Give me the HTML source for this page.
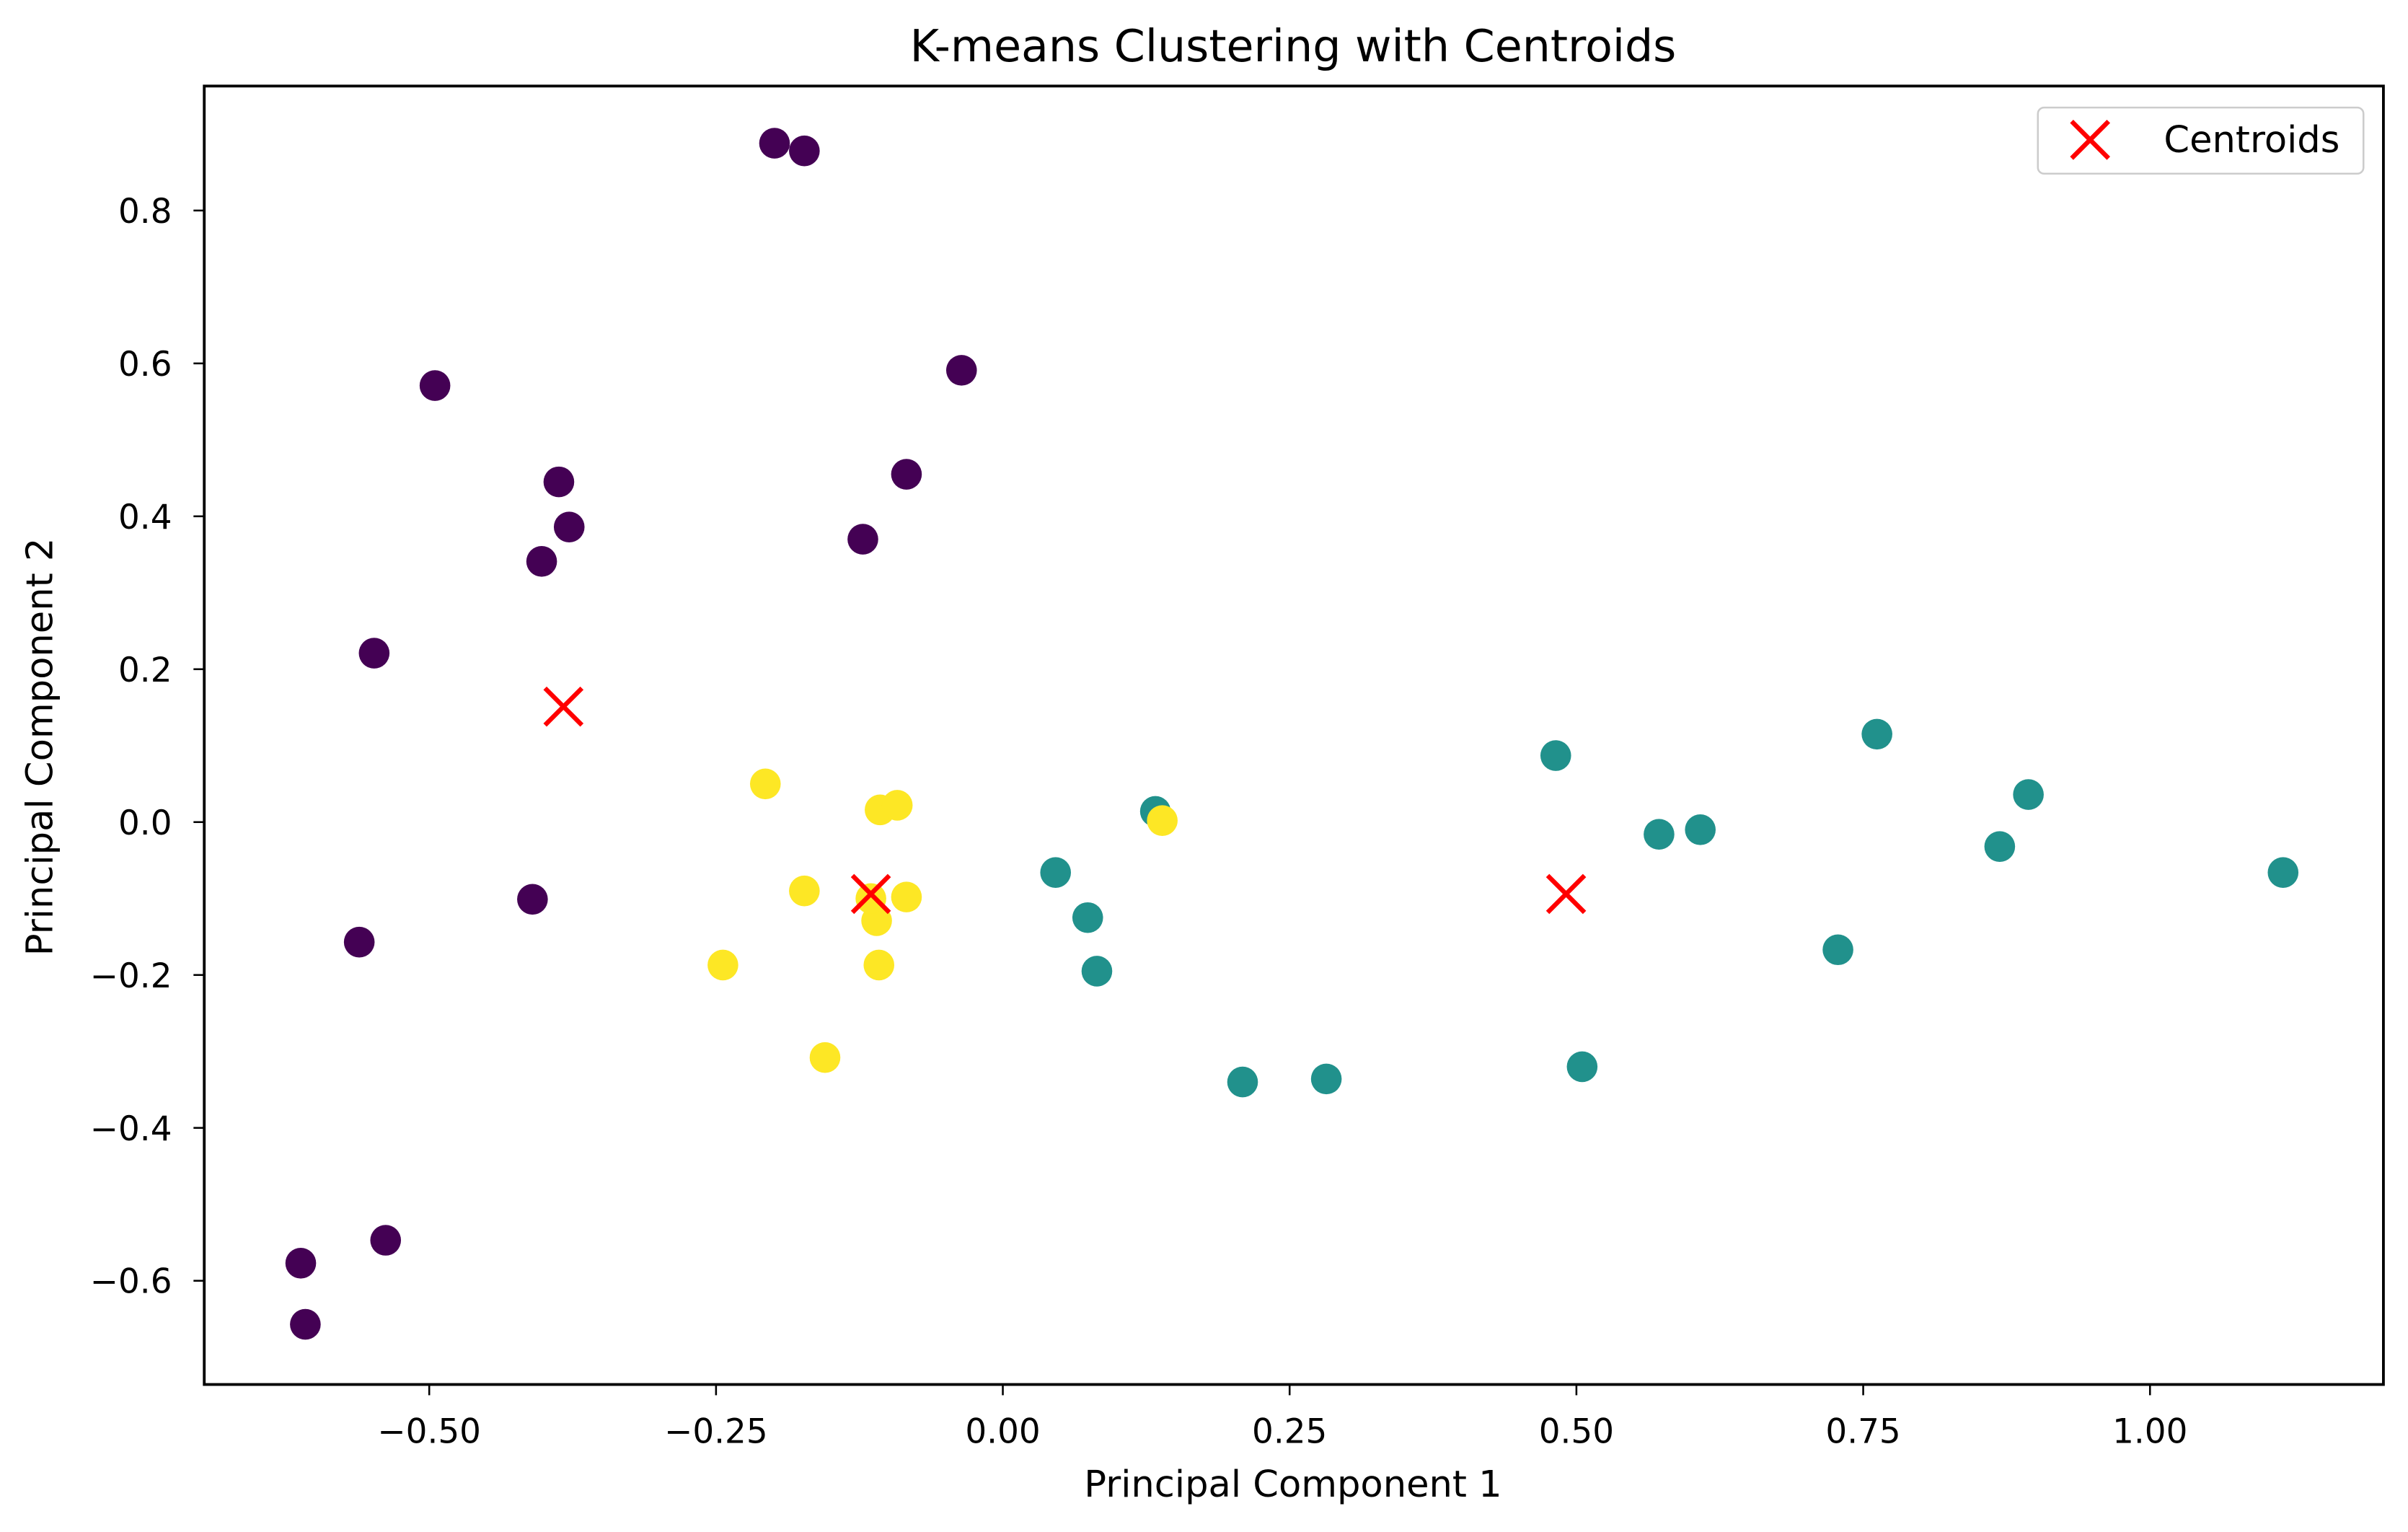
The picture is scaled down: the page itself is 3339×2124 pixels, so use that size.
<!DOCTYPE html>
<html><head><meta charset="utf-8"><style>
html,body{margin:0;padding:0;background:#fff;}
svg{display:block;}
text{font-family:"DejaVu Sans","Liberation Sans",sans-serif;fill:#000;}
</style></head><body>
<svg id="chart" width="3339" height="2124" viewBox="0 0 1568 997" preserveAspectRatio="none" xmlns="http://www.w3.org/2000/svg">
<rect x="0" y="0" width="1568" height="997" fill="#fff"/>
<text x="842" y="40" font-size="29" text-anchor="middle">K-means Clustering with Centroids</text>
<g id="marks"></g>
<g id="axes"></g>
<rect x="133" y="56" width="1419" height="845" fill="none" stroke="#000" stroke-width="1.8"/>
<text x="842" y="974" font-size="24" text-anchor="middle">Principal Component 1</text>
<text x="0" y="0" font-size="24" text-anchor="middle" transform="translate(34,486) rotate(-90)">Principal Component 2</text>
<g>
<rect x="1327" y="70" width="212" height="43" rx="4" fill="#fff" stroke="#ccc" stroke-width="1.2"/>
<path d="M1349,79 L1373,103 M1373,79 L1349,103" stroke="#ff0000" stroke-width="3"/>
<text x="1409" y="99" font-size="24">Centroids</text>
</g>
</svg>
<script>
const purpleX=[-0.199,-0.173,-0.495,-0.036,-0.387,-0.084,-0.378,-0.402,-0.122,-0.548,-0.410,-0.561,-0.538,-0.612,-0.608];
const purpleY=[0.888,0.878,0.571,0.591,0.445,0.455,0.386,0.341,0.370,0.221,-0.101,-0.157,-0.547,-0.577,-0.657];
const tealX=[0.133,0.046,0.074,0.082,0.209,0.282,0.482,0.572,0.608,0.505,0.762,0.894,0.869,0.728,1.116];
const tealY=[0.014,-0.066,-0.125,-0.195,-0.340,-0.336,0.087,-0.016,-0.010,-0.320,0.115,0.036,-0.032,-0.167,-0.066];
const yellowX=[-0.207,-0.107,-0.092,0.139,-0.173,-0.084,-0.110,-0.244,-0.108,-0.155,-0.115];
const yellowY=[0.050,0.016,0.022,0.002,-0.090,-0.098,-0.129,-0.187,-0.187,-0.308,-0.100];
const centroidX=[-0.383,-0.115,0.491];
const centroidY=[0.151,-0.094,-0.094];
const xTicks=[-0.5,-0.25,0,0.25,0.5,0.75,1.0];
const xTickLabels=["\u22120.50","\u22120.25","0.00","0.25","0.50","0.75","1.00"];
const yTicks=[-0.6,-0.4,-0.2,0,0.2,0.4,0.6,0.8];
const yTickLabels=["\u22120.6","\u22120.4","\u22120.2","0.0","0.2","0.4","0.6","0.8"];

const NS="http://www.w3.org/2000/svg";
function sx(v){return 653+v*747;}
function sy(v){return 535-v*497.5;}
const marks=document.getElementById('marks');
const axes=document.getElementById('axes');

function dots(xs,ys,color,name){
  for(let i=0;i<xs.length;i++){
    const c=document.createElementNS(NS,'circle');
    c.setAttribute('cx',sx(xs[i]));c.setAttribute('cy',sy(ys[i]));
    c.setAttribute('r',10);c.setAttribute('fill',color);
    
    
    marks.appendChild(c);
  }
}
dots(purpleX,purpleY,'#440154','cluster-0');
dots(tealX,tealY,'#21918c','cluster-1');
dots(yellowX,yellowY,'#fde725','cluster-2');
for(let i=0;i<centroidX.length;i++){
  const x=sx(centroidX[i]),y=sy(centroidY[i]),s=12;
  const p=document.createElementNS(NS,'path');
  p.setAttribute('d',`M${x-s},${y-s} L${x+s},${y+s} M${x+s},${y-s} L${x-s},${y+s}`);
  p.setAttribute('stroke','#ff0000');p.setAttribute('stroke-width',3);
  
  
  marks.appendChild(p);
}
xTicks.forEach((v,i)=>{
  const x=sx(v);
  const l=document.createElementNS(NS,'line');
  l.setAttribute('x1',x);l.setAttribute('x2',x);l.setAttribute('y1',901);l.setAttribute('y2',908);
  l.setAttribute('stroke','#000');l.setAttribute('stroke-width',1.2);
  
  
  axes.appendChild(l);
  const t=document.createElementNS(NS,'text');
  t.setAttribute('x',x);t.setAttribute('y',939);t.setAttribute('font-size',22);t.setAttribute('text-anchor','middle');
  t.textContent=xTickLabels[i];
  
  
  axes.appendChild(t);
});
yTicks.forEach((v,i)=>{
  const y=sy(v);
  const l=document.createElementNS(NS,'line');
  l.setAttribute('x1',126);l.setAttribute('x2',133);l.setAttribute('y1',y);l.setAttribute('y2',y);
  l.setAttribute('stroke','#000');l.setAttribute('stroke-width',1.2);
  
  
  axes.appendChild(l);
  const t=document.createElementNS(NS,'text');
  t.setAttribute('x',112);t.setAttribute('y',y+8);t.setAttribute('font-size',22);t.setAttribute('text-anchor','end');
  t.textContent=yTickLabels[i];
  
  
  axes.appendChild(t);
});
</script>
</body></html>
